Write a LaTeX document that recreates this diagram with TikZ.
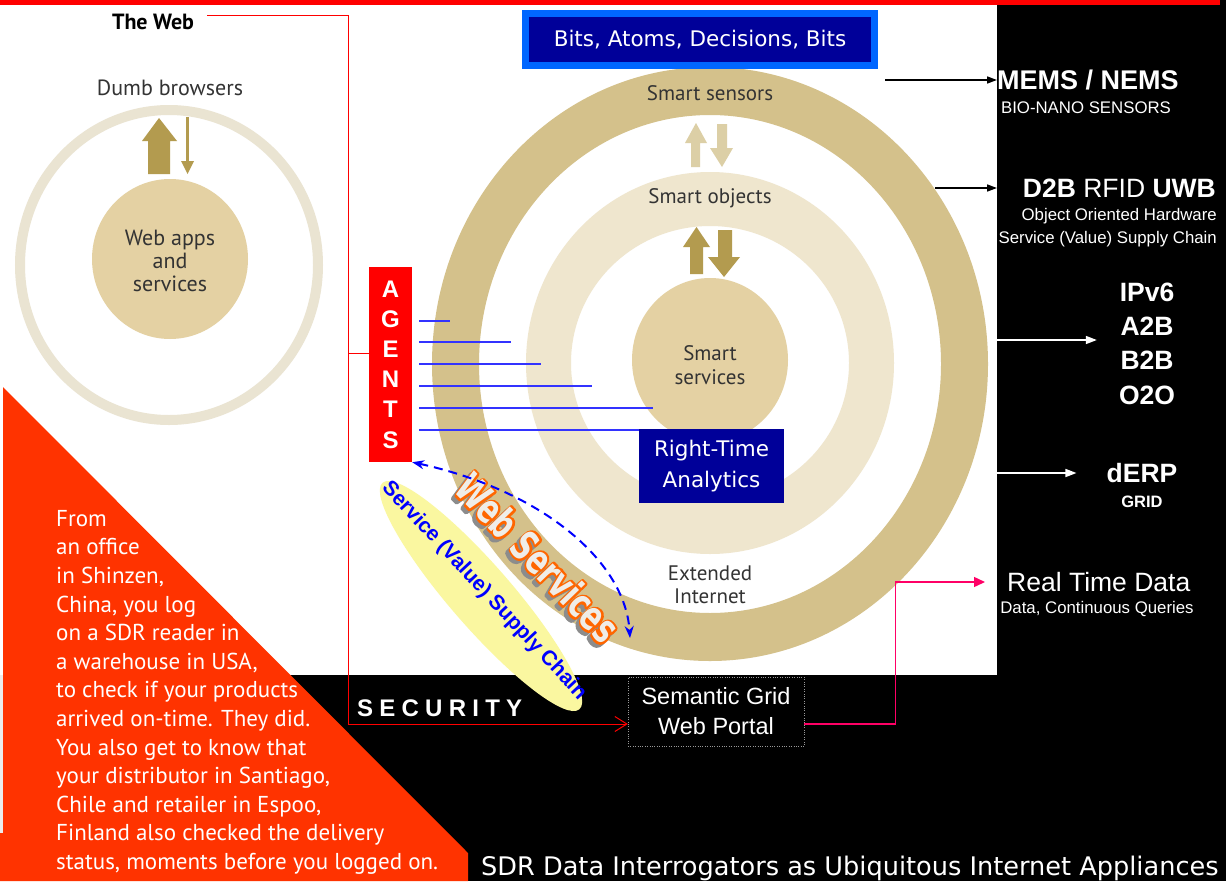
\documentclass[tikz,border=0pt]{standalone}
\usepackage{fontspec}
\setmainfont{PT Sans}
\newfontfamily\arialf{Liberation Sans}
\newfontfamily\dejaf{DejaVu Sans}
\usetikzlibrary{arrows.meta,shapes.geometric}
\definecolor{ringdark}{HTML}{D4C18B}
\definecolor{ringlight}{HTML}{EFE6CE}
\definecolor{coretan}{HTML}{E4D1A3}
\definecolor{arrowdark}{HTML}{B39B4F}
\definecolor{arrowlight}{HTML}{DCCFA6}
\definecolor{leftring}{HTML}{EAE4D2}
\definecolor{navy}{HTML}{000099}
\definecolor{brightblue}{HTML}{0066FF}
\definecolor{orangered}{HTML}{FF3300}
\definecolor{labelgray}{HTML}{333333}
\definecolor{linkblue}{HTML}{3333FF}
\definecolor{pinkred}{HTML}{FF0066}
\definecolor{paleyellow}{HTML}{FAF7A0}
\definecolor{wsorange}{HTML}{FF6600}
\definecolor{wsfill}{HTML}{EFEDE8}
\definecolor{wsshade}{HTML}{8C8C8C}
\definecolor{svblue}{HTML}{0000FF}
\definecolor{redline}{HTML}{FF0000}
\newcommand{\wsplain}{\scalebox{0.95}[1.35]{Web Services}}
\newcommand{\wsstroked}[1]{\scalebox{0.95}[1.35]{\special{pdf:literal q}\special{pdf:literal 2 Tr 3.4 w #1 RG 1 j}Web Services\special{pdf:literal 0 Tr Q}}}
\tikzset{
  lbl/.style={text=labelgray, font=\fontsize{21}{23}\selectfont, align=center, inner sep=0pt},
  wtxt/.style={text=white, inner sep=0pt},
  rbold/.style={wtxt, font=\arialf\bfseries\fontsize{26.5}{34.3}\selectfont, align=center},
  rsmall/.style={wtxt, font=\arialf\fontsize{16.8}{20}\selectfont},
  blkarrow/.style={draw=black, line width=1.6pt, -{Triangle[length=10pt,width=7pt]}},
  whtarrow/.style={draw=white, line width=1.6pt, -{Triangle[length=11pt,width=8pt]}},
  redwire/.style={draw=redline, line width=1pt},
  blueline/.style={draw=linkblue, line width=1.2pt},
  wsbase/.style={rotate=-46, font=\dejaf\bfseries\fontsize{30}{30}\selectfont, inner sep=0pt},
}
\begin{document}
\begin{tikzpicture}[x=1pt,y=-1pt]
\useasboundingbox (0,0) rectangle (1226,881);
\fill[black] (0,0) rectangle (1226,881);
\fill[white] (0,5) rectangle (997,675);
\fill[gray!15] (0,675) rectangle (3,833);
\fill[red] (0,0) rectangle (1220,5);

% big concentric rings
\fill[ringdark, even odd rule] (710,364) ellipse [x radius=278pt, y radius=297pt]
  (710,364) ellipse [x radius=231pt, y radius=249pt];
\fill[ringlight, even odd rule] (710,363) ellipse [x radius=184pt, y radius=191pt]
  (710,363) ellipse [x radius=139pt, y radius=137pt];
\fill[coretan] (710,360) ellipse [x radius=78pt, y radius=82pt];

% left diagram
\draw[leftring, line width=10pt] (169,265) ellipse [x radius=149pt, y radius=155pt];
\fill[coretan] (170,259) ellipse [x radius=78pt, y radius=80pt];
\fill[arrowdark] (148,174) -- (148,141) -- (142,141) -- (159,118) -- (177,141) -- (170,141) -- (170,174) -- cycle;
\fill[arrowdark] (185.8,117) rectangle (188.6,162);
\fill[arrowdark] (181,161) -- (194,161) -- (187.5,174) -- cycle;

% big diagram arrows
\fill[arrowlight] (691,167) -- (691,143) -- (685,143) -- (696,123) -- (707,143) -- (700,143) -- (700,167) -- cycle;
\fill[arrowlight] (717,124) -- (727,124) -- (727,148) -- (733,148) -- (722,167) -- (710,148) -- (717,148) -- cycle;
\fill[arrowdark] (690,274) -- (690,247) -- (683,247) -- (696.5,227) -- (710,247) -- (703,247) -- (703,274) -- cycle;
\fill[arrowdark] (718,230) -- (732,230) -- (732,257) -- (740,257) -- (724,277) -- (708,257) -- (718,257) -- cycle;

% labels
\node[lbl] (sensors) at (710,93) {Smart sensors};
\node[lbl] (objects) at (710,198) {Smart objects};
\node[lbl, font=\fontsize{21}{24.5}\selectfont] (services) at (710,365) {Smart\\services};
\node[lbl, font=\fontsize{21}{23.5}\selectfont] (extinet) at (710,585) {Extended\\Internet};
\node[lbl, text=black, font=\bfseries\fontsize{22}{24}\selectfont] (theweb) at (153,22) {The Web};
\node[lbl, font=\fontsize{22}{24}\selectfont] (dumb) at (170,88) {Dumb browsers};
\node[lbl, font=\fontsize{22}{23}\selectfont] (webapps) at (170,261) {Web apps\\and\\services};

% title box
\node[fill=navy, draw=brightblue, line width=7pt, minimum width=349pt, minimum height=52pt, inner sep=0pt,
  text=white, font=\dejaf\fontsize{21.5}{25}\selectfont] (bits) at (700,39.5) {Bits, Atoms, Decisions, Bits};

% agents
\node[fill=red, minimum width=43pt, minimum height=195pt, inner sep=0pt, text=white,
  font=\arialf\bfseries\fontsize{24}{30.2}\selectfont, align=center] (agents) at (390.5,364.5) {A\\G\\E\\N\\T\\S};
\foreach \yy/\xe in {321/450, 342/511, 364/541, 386/592, 408/653, 430/640}
  \draw[blueline] (419,\yy) -- (\xe,\yy);

% right-time analytics
\node[fill=navy, minimum width=145pt, minimum height=74pt, inner sep=0pt, text=white,
  font=\dejaf\fontsize{21.5}{31}\selectfont, align=center] (rta) at (711.5,466) {Right-Time\\Analytics};

% service supply chain ellipse
\node[ellipse, fill=paleyellow, minimum width=300pt, minimum height=62pt, inner sep=0pt, rotate=-49] (svellipse) at (481,596) {};
\node[rotate=-47, text=svblue, inner sep=0pt, font=\arialf\bfseries\fontsize{21}{21}\selectfont] (svtext) at (484,591) {Service (Value) Supply Chain};

% web services word art: shadow, orange outline, light fill
\node[wsbase, text=wsshade] (wsshadow) at (534.5,561) {\wsstroked{0.55 0.55 0.55}};
\node[wsbase, text=wsorange] (wsoutline) at (538,558) {\wsstroked{1 0.4 0}};
\node[wsbase, text=wsfill] (websvc) at (538,558) {\wsplain};

% dashed double arrow
\coordinate (wsend) at (630,638);
\draw[svblue, line width=2pt, dash pattern=on 9pt off 6pt, {Stealth[length=12pt,width=9pt]}-{Stealth[length=12pt,width=9pt]}]
  (agents.south east) .. controls (540,490) and (625,560) .. (wsend);

% black region items
\node[anchor=west, text=white, inner sep=0pt, font=\arialf\bfseries\fontsize{24}{24}\selectfont\addfontfeatures{LetterSpace=26}] (security) at (357,708) {SECURITY};
\node[draw=gray!80, dotted, minimum width=176pt, minimum height=69pt, inner sep=0pt, text=white,
  font=\arialf\fontsize{23.5}{30}\selectfont, align=center] (portal) at (716,711.5) {Semantic Grid\\Web Portal};

% red web wire
\coordinate (webstart) at (207,15);
\coordinate (branch) at (348,353);
\draw[redwire, -{Straight Barb[length=12pt,width=15pt]}] (webstart) -- (348,15) |- ([yshift=-12.5pt]portal.west) ;
\draw[redwire] (branch) -- (branch -| agents.west);

% right side texts
\node[anchor=west, wtxt, font=\arialf\bfseries\fontsize{27}{30}\selectfont] (mems) at (997,80) {MEMS / NEMS};
\node[rsmall] (bionano) at (1086,108) {BIO-NANO SENSORS};
\coordinate (memsfrom) at (885,80);
\draw[blkarrow] (memsfrom) -- (mems.west);

\node[anchor=east, wtxt, font=\arialf\fontsize{26.5}{30}\selectfont] (d2b) at (1216,188) {\bfseries D2B \mdseries RFID \bfseries UWB};
\node[anchor=east, rsmall] (ooh) at (1217,216) {Object Oriented Hardware};
\node[anchor=east, rsmall] (svsc) at (1217,239) {Service (Value) Supply Chain};
\coordinate (d2bfrom) at (935,188);
\coordinate (d2bto) at (997,188);
\draw[blkarrow] (d2bfrom) -- (d2bto);

\node[rbold] (ipv6) at (1147,343.5) {IPv6\\A2B\\B2B\\O2O};
\coordinate (ipfrom) at (997,340);
\draw[whtarrow, shorten >=22pt] (ipfrom) -- (ipfrom -| ipv6.west);

\node[wtxt, font=\arialf\bfseries\fontsize{26.5}{30}\selectfont] (derp) at (1142,473) {dERP};
\node[wtxt, font=\arialf\bfseries\fontsize{16.5}{20}\selectfont] (grid) at (1142,502) {GRID};
\coordinate (derpfrom) at (997,473);
\draw[whtarrow, shorten >=30pt] (derpfrom) -- (derp.west);

\node[anchor=west, wtxt, font=\arialf\fontsize{26.5}{30}\selectfont] (rtd) at (1007,582) {Real Time Data};
\node[rsmall] (rtdsub) at (1097,609) {Data, Continuous Queries};
\draw[draw=pinkred, line width=1.4pt, -{Triangle[length=11pt,width=10pt]}, shorten >=22pt]
  ([yshift=-12.5pt]portal.east) -- ++(91,0) |- (rtd.west);

% orange triangle with story
\fill[orangered] (3,387) -- (468,853) -- (468,881) -- (0,881) -- (0,833) -- (3,833) -- cycle;
\node[anchor=north west, align=left, text=white, inner sep=0pt, font=\fontsize{23}{28.6}\selectfont] (story) at (56,510)
  {From\\an office\\in Shinzen,\\China, you log\\on a SDR reader in\\a warehouse in USA,\\to check if your products\\arrived on-time. They did.\\You also get to know that\\your distributor in Santiago,\\Chile and retailer in Espoo,\\Finland also checked the delivery\\status, moments before you logged on.};

\node[anchor=base west, text=white, inner sep=0pt, font=\dejaf\fontsize{25.6}{28}\selectfont] (footer) at (481,875)
  {SDR Data Interrogators as Ubiquitous Internet Appliances};
\end{tikzpicture}
\end{document}
